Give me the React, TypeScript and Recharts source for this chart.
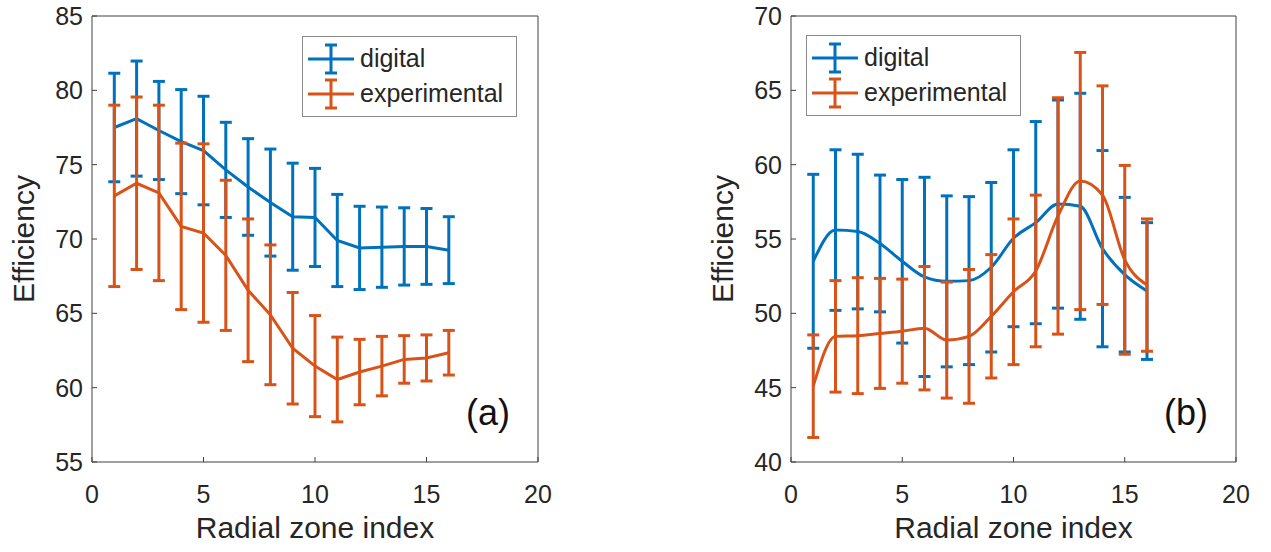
import { LineChart, Line, XAxis, YAxis, ErrorBar, Legend } from "recharts";

const zones = [1, 2, 3, 4, 5, 6, 7, 8, 9, 10, 11, 12, 13, 14, 15, 16];

// panel (a)
const digitalA = [77.5, 78.1, 77.3, 76.55, 75.95, 74.65, 73.5, 72.45, 71.5, 71.45, 69.9, 69.4, 69.45, 69.5, 69.5, 69.25];
const digitalAErr = [3.65, 3.87, 3.3, 3.5, 3.65, 3.2, 3.25, 3.6, 3.6, 3.3, 3.1, 2.8, 2.7, 2.6, 2.55, 2.25];
const experimentalA = [72.9, 73.75, 73.1, 70.85, 70.4, 68.9, 66.55, 64.9, 62.65, 61.45, 60.55, 61.05, 61.45, 61.9, 62.0, 62.35];
const experimentalAErr = [6.1, 5.8, 5.9, 5.6, 6.0, 5.05, 4.8, 4.7, 3.75, 3.4, 2.85, 2.2, 2.0, 1.6, 1.55, 1.5];

// panel (b)
const digitalB = [53.5, 55.6, 55.5, 54.7, 53.5, 52.45, 52.15, 52.2, 53.1, 55.05, 56.1, 57.35, 57.2, 54.35, 52.6, 51.5];
const digitalBErr = [5.85, 5.4, 5.2, 4.6, 5.5, 6.7, 5.75, 5.65, 5.7, 5.95, 6.8, 7.0, 7.6, 6.6, 5.2, 4.6];
const experimentalB = [45.1, 48.45, 48.5, 48.65, 48.8, 49.0, 48.2, 48.45, 49.8, 51.45, 52.85, 56.55, 58.9, 57.95, 53.6, 51.9];
const experimentalBErr = [3.45, 3.75, 3.9, 3.7, 3.5, 4.15, 3.9, 4.5, 4.15, 4.9, 5.1, 7.95, 8.65, 7.35, 6.35, 4.45];

const xTicks = [0, 5, 10, 15, 20];
const yTicksA = [55, 60, 65, 70, 75, 80, 85];
const yTicksB = [40, 45, 50, 55, 60, 65, 70];

const BLUE = "#0072BD";
const ORANGE = "#D95319";
const TEXT = "#262626";
const AXIS = "#404040";
const FONT = "'Liberation Sans', Arial, sans-serif";

function buildRows(d: number[], dErr: number[], e: number[], eErr: number[]) {
  return zones.map((z, i) => ({
    zone: z,
    digital: d[i],
    digitalErr: dErr[i],
    experimental: e[i],
    experimentalErr: eErr[i],
  }));
}

function YLabel(props: any) {
  const vb = props.viewBox || {};
  const x = vb.x + 2;
  const y = vb.y + vb.height / 2;
  return (
    <text x={x} y={y} transform={`rotate(-90 ${x} ${y})`} textAnchor="middle" fontSize={30} fill={TEXT} fontFamily={FONT}>
      Efficiency
    </text>
  );
}

function XLabel(props: any) {
  const vb = props.viewBox || {};
  return (
    <text x={vb.x + vb.width / 2} y={538} textAnchor="middle" fontSize={30} fill={TEXT} fontFamily={FONT}>
      Radial zone index
    </text>
  );
}

function LegendBox(props: any) {
  const items = props.payload || [];
  return (
    <div style={{ width: 213, height: 75, border: "1px solid #8a8a8a", background: "#fff", paddingTop: 4, boxSizing: "content-box", fontFamily: FONT, fontSize: 25, color: TEXT }}>
      {items.map((it: any) => (
        <div key={it.value} style={{ display: "flex", alignItems: "center", height: 35 }}>
          <svg width={52} height={32} style={{ marginLeft: 4 }}>
            <line x1={1} y1={16} x2={47} y2={16} stroke={it.color} strokeWidth={3} />
            <line x1={24} y1={2} x2={24} y2={30} stroke={it.color} strokeWidth={3} />
            <line x1={18} y1={2} x2={30} y2={2} stroke={it.color} strokeWidth={3} />
            <line x1={18} y1={30} x2={30} y2={30} stroke={it.color} strokeWidth={3} />
          </svg>
          <span style={{ marginLeft: 1, lineHeight: 1 }}>{it.value}</span>
        </div>
      ))}
    </div>
  );
}

type PanelProps = {
  rows: ReturnType<typeof buildRows>;
  yDomain: [number, number];
  yTicks: number[];
  curve: "linear" | "monotone";
  tag: string;
  left: number;
  marginLeft: number;
  marginRight: number;
  legendLeft: number;
  legendTop: number;
  tagX: number;
};

function Panel({ rows, yDomain, yTicks, curve, tag, left, marginLeft, marginRight, legendLeft, legendTop, tagX }: PanelProps) {
  const tickStyle = { fontSize: 25, fill: TEXT, fontFamily: FONT };
  return (
    <div style={{ position: "absolute", left, top: 0, width: 560, height: 552 }}>
      <LineChart width={560} height={552} data={rows} margin={{ top: 15, right: marginRight, left: marginLeft, bottom: 0 }}>
        <XAxis
          dataKey="zone"
          type="number"
          domain={[0, 20]}
          ticks={xTicks}
          interval={0}
          allowDataOverflow
          tickSize={-5}
          tickMargin={28}
          tick={tickStyle}
          stroke={AXIS}
          height={90}
          label={{ content: XLabel }}
        />
        <XAxis xAxisId="top" orientation="top" type="number" domain={[0, 20]} ticks={xTicks} interval={0} allowDataOverflow tick={false} tickSize={-5} height={1} stroke={AXIS} />
        <YAxis
          type="number"
          domain={yDomain}
          ticks={yTicks}
          interval={0}
          allowDataOverflow
          tickSize={-5}
          tickMargin={14}
          tick={tickStyle}
          stroke={AXIS}
          width={60}
          label={{ content: YLabel }}
        />
        <YAxis yAxisId="right" orientation="right" type="number" domain={yDomain} ticks={yTicks} interval={0} allowDataOverflow tick={false} tickSize={-5} width={1} stroke={AXIS} />
        <Legend layout="vertical" align="center" verticalAlign="middle" wrapperStyle={{ left: legendLeft, top: legendTop }} content={LegendBox} />
        <Line dataKey="digital" name="digital" type={curve} stroke={BLUE} strokeWidth={3} dot={false} activeDot={false} isAnimationActive={false}>
          <ErrorBar dataKey="digitalErr" direction="y" width={6} stroke={BLUE} strokeWidth={3} isAnimationActive={false} />
        </Line>
        <Line dataKey="experimental" name="experimental" type={curve} stroke={ORANGE} strokeWidth={3} dot={false} activeDot={false} isAnimationActive={false}>
          <ErrorBar dataKey="experimentalErr" direction="y" width={6} stroke={ORANGE} strokeWidth={3} isAnimationActive={false} />
        </Line>
      </LineChart>
      <svg style={{ position: "absolute", left: 0, top: 0, pointerEvents: "none" }} width={560} height={552}>
        <text x={tagX} y={425} fontSize={36} fill="#111" fontFamily={FONT}>
          {tag}
        </text>
      </svg>
    </div>
  );
}

export default function App() {
  const rowsA = buildRows(digitalA, digitalAErr, experimentalA, experimentalAErr);
  const rowsB = buildRows(digitalB, digitalBErr, experimentalB, experimentalBErr);
  return (
    <div style={{ position: "absolute", left: 0, top: 0, width: 1271, height: 552, background: "#fff", overflow: "hidden" }}>
      <Panel rows={rowsA} yDomain={[55, 85]} yTicks={yTicksA} curve="linear" tag="(a)" left={0} marginLeft={32} marginRight={21} legendLeft={302} legendTop={36} tagX={466} />
      <Panel rows={rowsB} yDomain={[40, 70]} yTicks={yTicksB} curve="monotone" tag="(b)" left={700} marginLeft={31} marginRight={23} legendLeft={106} legendTop={35} tagX={464} />
    </div>
  );
}
